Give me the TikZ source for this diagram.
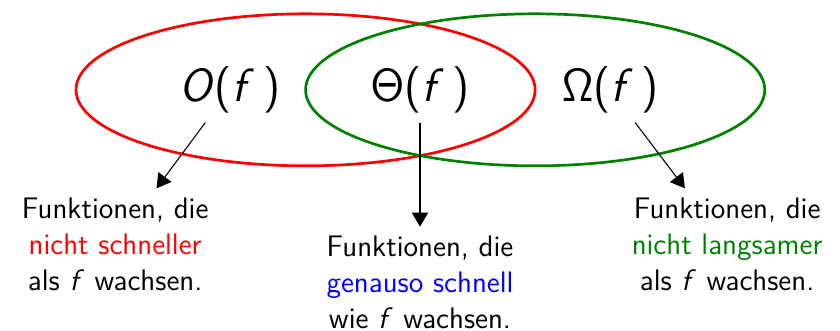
\documentclass[tikz,border=0pt]{standalone}
\usetikzlibrary{arrows.meta, calc, positioning}
\definecolor{setRed}{HTML}{FF0000}
\definecolor{setGreen}{HTML}{008000}
\definecolor{setBlue}{HTML}{0000FF}
\DeclareMathAlphabet{\mathsfit}{OT1}{cmss}{m}{sl}

\begin{document}
\begin{tikzpicture}[
    font=\sffamily\fontsize{11}{13.3}\selectfont,
    setline/.style={line width=1pt},
    classlabel/.style={font=\sffamily\fontsize{17.28}{21}\selectfont},
    desc/.style={align=center},
    arrow/.style={-{Triangle[length=5.2pt, width=6pt]}, line width=0.4pt, draw=black}
]
\path[use as bounding box] (0,0) rectangle (109.4mm,-43.1mm);

% The two sets
\draw[setline, draw=setRed] (39.8mm,-11.7mm) ellipse [x radius=29.9mm, y radius=9.9mm];
\draw[setline, draw=setGreen] (69.7mm,-11.7mm) ellipse [x radius=29.9mm, y radius=9.9mm];

% Labels inside the sets
\node[classlabel] (bigO) at (29.9mm,-11.7mm) {$\mathsfit{O}$($\mathsfit{f}\,$)};
\node[classlabel] (theta) at ($(bigO)+(24.8mm,0)$) {$\mathsf{\Theta}$($\mathsfit{f}\,$)};
\node[classlabel] (omega) at ($(theta)+(24.8mm,0)$) {$\mathsf{\Omega}$($\mathsfit{f}\,$)};

% Descriptions
\node[desc] (slower) at (15.0mm,-31.8mm) {Funktionen, die\\\textcolor{setRed}{nicht schneller}\\als $\mathsfit{f}$ wachsen.};
\node[desc] (same) at (54.7mm,-36.8mm) {Funktionen, die\\\textcolor{setBlue}{genauso schnell}\\wie $\mathsfit{f}$ wachsen.};
\node[desc] (faster) at (94.7mm,-31.8mm) {Funktionen, die\\\textcolor{setGreen}{nicht langsamer}\\als $\mathsfit{f}$ wachsen.};

% Arrows
\draw[arrow] (bigO) -- (slower);
\draw[arrow] (theta) -- (same);
\draw[arrow] (omega) -- (faster);

\end{tikzpicture}
\end{document}
